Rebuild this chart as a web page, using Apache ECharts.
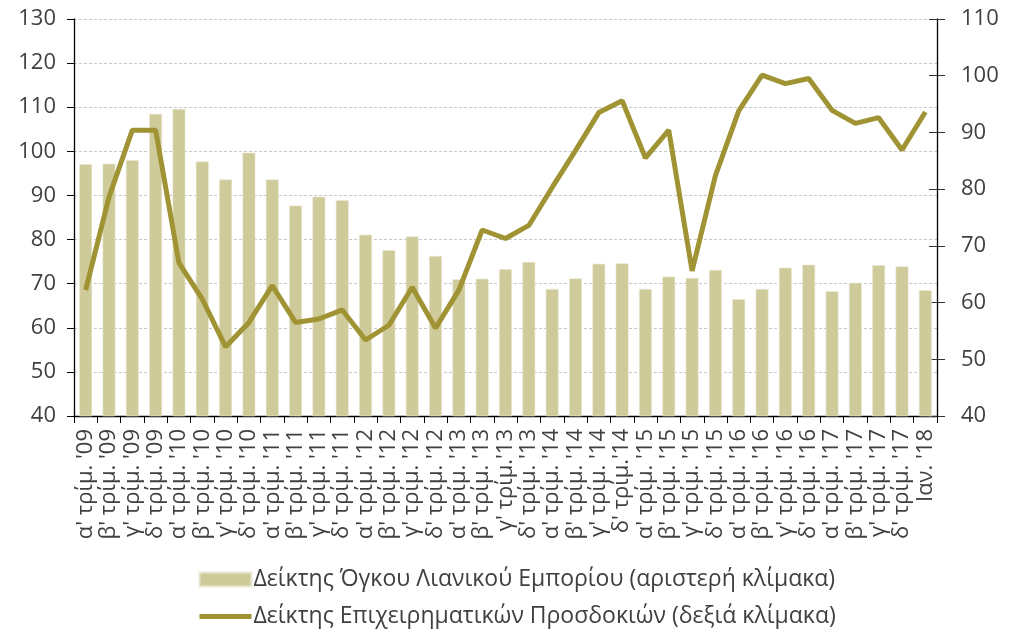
<!DOCTYPE html>
<html>
<head>
<meta charset="utf-8">
<script src="https://cdn.jsdelivr.net/npm/echarts@6/dist/echarts.min.js"></script>
<style>
  html, body { margin: 0; padding: 0; background: #fff; }
  #chart { width: 1010px; height: 629px; }
</style>
</head>
<body>
<div id="chart"></div>
<script>
// κατηγορίες (τρίμηνα)
const categories = [
  "α' τρίμ. '09", "β' τρίμ. '09", "γ' τρίμ. '09", "δ' τρίμ. '09",
  "α' τρίμ. '10", "β' τρίμ. '10", "γ' τρίμ. '10", "δ' τρίμ. '10",
  "α' τρίμ. '11", "β' τρίμ. '11", "γ' τρίμ. '11", "δ' τρίμ. '11",
  "α' τρίμ. '12", "β' τρίμ. '12", "γ' τρίμ. '12", "δ' τρίμ. '12",
  "α' τρίμ. '13", "β' τρίμ. '13", "γ' τρίμ.'13", "δ' τρίμ. '13",
  "α' τρίμ. '14", "β' τρίμ. '14", "γ' τρίμ. '14", "δ' τρίμ.'14",
  "α' τρίμ. '15", "β' τρίμ. '15", "γ' τρίμ. '15", "δ' τρίμ. '15",
  "α' τρίμ. '16", "β' τρίμ. '16", "γ' τρίμ. '16", "δ' τρίμ. '16",
  "α' τρίμ. '17", "β' τρίμ. '17", "γ' τρίμ. '17", "δ' τρίμ. '17",
  "Ιαν. '18"
]
// Δείκτης Όγκου Λιανικού Εμπορίου (αριστερή κλίμακα)
const retailVolume = [
  97.1, 97.2, 98.0, 108.5, 109.6, 97.7, 93.6, 99.7,
  93.6, 87.7, 89.7, 88.9, 81.1, 77.6, 80.7, 76.3,
  71.0, 71.1, 73.3, 74.9, 68.8, 71.2, 74.5, 74.6,
  68.8, 71.6, 71.3, 73.1, 66.5, 68.8, 73.6, 74.3,
  68.3, 70.2, 74.2, 73.9, 68.5
]
// Δείκτης Επιχειρηματικών Προσδοκιών (δεξιά κλίμακα)
const businessExpect = [
  62.2, 78.6, 90.4, 90.4, 67.0, 60.6, 52.2, 56.5,
  63.0, 56.5, 57.1, 58.7, 53.4, 56.0, 62.7, 55.5,
  62.2, 72.8, 71.3, 73.6, 80.3, 86.8, 93.5, 95.6,
  85.5, 90.4, 65.6, 82.4, 93.8, 100.1, 98.6, 99.5,
  93.9, 91.6, 92.6, 86.9, 93.6
]
const seriesNames = [
  'Δείκτης Όγκου Λιανικού Εμπορίου (αριστερή κλίμακα)',
  'Δείκτης Επιχειρηματικών Προσδοκιών (δεξιά κλίμακα)'
]

const chart = echarts.init(document.getElementById('chart'))
const font = '"Open Sans", "Noto Sans", sans-serif'
const textColor = '#404040'

const option = {
  animation: false,
  textStyle: { fontFamily: font },
  grid: { left: 74, right: 73, top: 19, bottom: 213, containLabel: false },
  legend: {
    orient: 'vertical',
    left: 197,
    top: 567,
    padding: 0,
    itemWidth: 52,
    itemHeight: 14,
    itemGap: 12,
    lineStyle: { width: 5 },
    data: [
      { name: seriesNames[0], icon: 'rect' },
      // κρύβουμε τον κύκλο του εικονιδίου, μένει μόνο η γραμμή
      { name: seriesNames[1], itemStyle: { color: 'rgba(0,0,0,0)', borderColor: 'rgba(0,0,0,0)', opacity: 0 } }
    ],
    textStyle: { color: textColor, fontSize: 23, fontFamily: font, lineHeight: 25, padding: [0, 0, 0, -3] }
  },
  xAxis: {
    type: 'category',
    data: categories,
    axisLine: { lineStyle: { color: '#000', width: 1.3 } },
    axisTick: { show: true, length: 7, lineStyle: { color: '#000' } },
    axisLabel: {
      rotate: 90,
      interval: 0,
      margin: 13,
      fontSize: 22,
      color: textColor,
      fontFamily: font
    },
    splitLine: { show: false }
  },
  yAxis: [
    {
      type: 'value',
      min: 40,
      max: 130,
      interval: 10,
      position: 'left',
      axisLine: { show: true, lineStyle: { color: '#000', width: 1.3 } },
      axisTick: { show: true, length: 7, lineStyle: { color: '#000' } },
      axisLabel: { fontSize: 22, color: textColor, margin: 18, fontFamily: font },
      splitLine: { show: true, lineStyle: { color: '#c8c8c8', type: [3, 2], width: 1 } }
    },
    {
      type: 'value',
      min: 40,
      max: 110,
      interval: 10,
      position: 'right',
      axisLine: { show: true, lineStyle: { color: '#000', width: 1.3 } },
      axisTick: { show: true, length: 8, lineStyle: { color: '#333' } },
      axisLabel: { fontSize: 22, color: textColor, margin: 24, fontFamily: font },
      splitLine: { show: false }
    },
    {
      // ίδια δεξιά κλίμακα, μόνο για τα εσωτερικά tick (ώστε να "κόβουν" τον άξονα)
      type: 'value',
      min: 40,
      max: 110,
      interval: 10,
      position: 'right',
      axisLine: { show: false },
      axisTick: { show: true, inside: true, length: 8, lineStyle: { color: '#333' } },
      axisLabel: { show: false },
      splitLine: { show: false }
    }
  ],
  series: [
    {
      name: seriesNames[0],
      type: 'bar',
      yAxisIndex: 0,
      barWidth: '55%',
      data: retailVolume,
      itemStyle: { color: '#cfca9a', borderColor: '#e9e7d3', borderWidth: 0.6 }
    },
    {
      name: seriesNames[1],
      type: 'line',
      yAxisIndex: 1,
      symbol: 'none',
      data: businessExpect,
      z: 5,
      lineStyle: { color: '#9f9333', width: 5 },
      itemStyle: { color: '#9f9333' }
    }
  ]
}
chart.setOption(option)
</script>
</body>
</html>
